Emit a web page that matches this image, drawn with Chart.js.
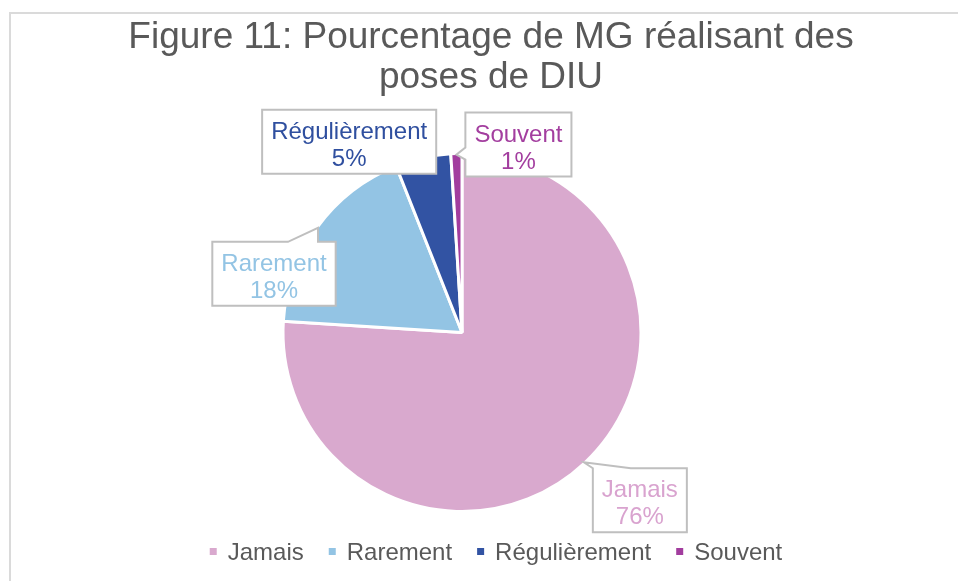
<!DOCTYPE html>
<html><head><meta charset="utf-8">
<script src="https://cdn.jsdelivr.net/npm/chart.js@4/dist/chart.umd.min.js"></script>
<style>html,body{margin:0;padding:0;background:#fff;overflow:hidden}canvas{display:block}</style>
</head><body>
<canvas id="c" width="958" height="581"></canvas>
<script>
// ---- data ----
const categories = ['Jamais', 'Rarement', 'Régulièrement', 'Souvent'];
const values = [76, 18, 5, 1];
const percentLabels = ['76%', '18%', '5%', '1%'];
const titleLines = ['Figure 11: Pourcentage de MG réalisant des', 'poses de DIU'];

// ---- styles ----
const sliceColors = ['#D9A9CE', '#93C4E4', '#3253A3', '#A23D9E'];
const labelColors = ['#D9A3CF', '#93C4E4', '#2F4F9F', '#A33E9F'];
const FONT = '"Liberation Sans", Arial, sans-serif';
const TEXT_GRAY = '#595959';
// callout placement relative to the slice's outer mid-point (style only)
const calloutStyles = [
  { dx: 56, dy: 38, edge: 'top', base: [0, 38] },
  { dx: -44, dy: 46, edge: 'top', base: [-30, 0] },
  { dx: -74, dy: -17, edge: 'none', base: [0, 0] },
  { dx: 62, dy: -10, edge: 'left', base: [-7, 5] }
];

const framePlugin = {
  id: 'frame',
  beforeDraw(chart) {
    const ctx = chart.ctx;
    ctx.save();
    ctx.fillStyle = '#fff';
    ctx.fillRect(0, 0, chart.width, chart.height);
    ctx.strokeStyle = '#DADADA';
    ctx.lineWidth = 2;
    ctx.strokeRect(10, 13, chart.width + 20, chart.height + 20);
    ctx.restore();
  }
};

const titlePlugin = {
  id: 'customTitle',
  afterDraw(chart) {
    const ctx = chart.ctx;
    ctx.save();
    ctx.font = '37px ' + FONT;
    ctx.fillStyle = TEXT_GRAY;
    ctx.textAlign = 'center';
    ctx.textBaseline = 'alphabetic';
    titleLines.forEach((t, i) => ctx.fillText(t, 491, 48 + i * 40));
    ctx.restore();
  }
};

const legendPlugin = {
  id: 'customLegend',
  afterDraw(chart) {
    const ctx = chart.ctx;
    ctx.save();
    ctx.font = '24px ' + FONT;
    ctx.textBaseline = 'alphabetic';
    ctx.textAlign = 'left';
    const sq = 7, gapText = 11, gapItem = 25;
    const widths = categories.map(c => ctx.measureText(c).width);
    const total = widths.reduce((a, w) => a + sq + gapText + w, 0) + gapItem * (categories.length - 1);
    let x = 496 - total / 2;
    const baseY = 560;
    categories.forEach((c, i) => {
      ctx.fillStyle = sliceColors[i];
      ctx.fillRect(x, baseY - 12, sq, sq);
      ctx.fillStyle = TEXT_GRAY;
      ctx.fillText(c, x + sq + gapText, baseY);
      x += sq + gapText + widths[i] + gapItem;
    });
    ctx.restore();
  }
};

const calloutPlugin = {
  id: 'callouts',
  afterDatasetsDraw(chart) {
    const ctx = chart.ctx;
    const meta = chart.getDatasetMeta(0);
    ctx.save();
    ctx.font = '24px ' + FONT;
    meta.data.forEach((arc, i) => {
      const p = arc.getProps(['x', 'y', 'startAngle', 'endAngle', 'outerRadius'], true);
      const mid = (p.startAngle + p.endAngle) / 2;
      const r = p.outerRadius - 1;
      const tip = { x: p.x + Math.cos(mid) * r, y: p.y + Math.sin(mid) * r };
      const st = calloutStyles[i];
      const lines = [categories[i], percentLabels[i]];
      const tw = Math.max(...lines.map(l => ctx.measureText(l).width));
      const w = tw + 18, h = 64;
      const cx = tip.x + st.dx, cy = tip.y + st.dy;
      const L = cx - w / 2, R = cx + w / 2, T = cy - h / 2, B = cy + h / 2;
      const clamp = (v, a, b) => Math.max(a, Math.min(b, v));
      ctx.beginPath();
      ctx.moveTo(L, T);
      if (st.edge === 'top') {
        const q = clamp(tip.x, L, R);
        ctx.lineTo(clamp(q + st.base[0], L, R), T);
        ctx.lineTo(tip.x, tip.y);
        ctx.lineTo(clamp(q + st.base[1], L, R), T);
      }
      ctx.lineTo(R, T);
      ctx.lineTo(R, B);
      ctx.lineTo(L, B);
      if (st.edge === 'left') {
        const q = clamp(tip.y, T, B);
        ctx.lineTo(L, clamp(q + st.base[1], T, B));
        ctx.lineTo(tip.x, tip.y);
        ctx.lineTo(L, clamp(q + st.base[0], T, B));
      }
      ctx.closePath();
      ctx.fillStyle = '#fff';
      ctx.fill();
      ctx.strokeStyle = '#BFBFBF';
      ctx.lineWidth = 2;
      ctx.lineJoin = 'miter';
      ctx.stroke();
      ctx.fillStyle = labelColors[i];
      ctx.textAlign = 'center';
      ctx.textBaseline = 'alphabetic';
      ctx.fillText(lines[0], cx, cy - 3);
      ctx.fillText(lines[1], cx, cy + 24);
    });
    ctx.restore();
  }
};

new Chart(document.getElementById('c'), {
  type: 'pie',
  data: {
    labels: categories,
    datasets: [{
      data: values,
      backgroundColor: sliceColors,
      borderColor: '#ffffff',
      borderWidth: 3
    }]
  },
  options: {
    responsive: false,
    animation: false,
    devicePixelRatio: 1,
    radius: 179,
    layout: { padding: { left: 284, right: 318, top: 154, bottom: 70 } },
    plugins: {
      legend: { display: false },
      title: { display: false },
      tooltip: { enabled: false }
    }
  },
  plugins: [framePlugin, calloutPlugin, titlePlugin, legendPlugin]
});
</script>
</body></html>
